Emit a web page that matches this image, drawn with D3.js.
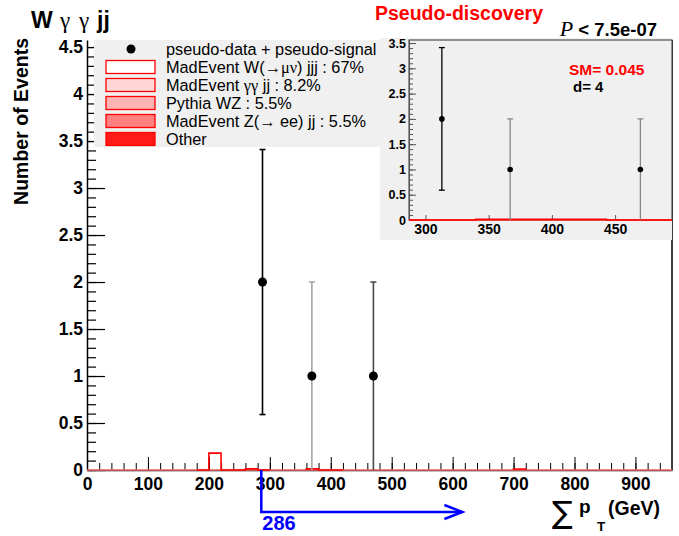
<!DOCTYPE html>
<html>
<head>
<meta charset="utf-8">
<script src="https://cdn.jsdelivr.net/npm/d3@7"></script>
<style>
  body { margin: 0; background: #fff; }
  svg { display: block; font-family: "Liberation Sans", Arial, sans-serif; }
  .serif { font-family: "Liberation Serif", "DejaVu Serif", serif; }
</style>
</head>
<body>
<div id="chart"></div>
<script>
// data points (sum pT in GeV, events)
var pointX = [288, 369, 470];
var pointY = [2, 1, 1];
var pointLo = [0.59, 0, 0];
var pointHi = [3.41, 2, 2];
var insetPointX = [313, 367, 470];

// stacked SM background, 20 GeV bins (low edge, height)
var histLow = [180, 200, 220, 240, 260, 280, 360, 380, 400, 700];
var histVal = [0, 0.18, 0, 0, 0.012, 0, 0.012, 0, 0, 0.01];
var binWidth = 20;
var insetHistEdges = [287, 340, 443, 495];
var insetHistVal = [0, 0.012, 0];

var xTickVals = [0, 100, 200, 300, 400, 500, 600, 700, 800, 900];
var yTickVals = [0, 0.5, 1, 1.5, 2, 2.5, 3, 3.5, 4, 4.5];
var insetXTicks = [300, 350, 400, 450];
var insetYTicks = [0, 0.5, 1, 1.5, 2, 2.5, 3, 3.5];

var cutValue = 286;
var arrowEnd = 616;

var legendLabels = [
  [["pseudo-data + pseudo-signal", 0]],
  [["MadEvent W(", 0], ["\u2192\u03bc\u03bd", 1], [") jjj : 67%", 0]],
  [["MadEvent ", 0], ["\u03b3\u03b3", 1], [" jj : 8.2%", 0]],
  [["Pythia WZ : 5.5%", 0]],
  [["MadEvent Z(", 0], ["\u2192", 1], [" ee) jj : 5.5%", 0]],
  [["Other", 0]]
];
var legendFills = [null, "#ffffff", "#ffd6d6", "#ffb3b3", "#ff8080", "#ff1a1a"];

var w = 679, h = 536;
var svg = d3.select("#chart").append("svg").attr("width", w).attr("height", h);

var x = d3.scaleLinear().domain([0, 960]).range([87, 672]);
var y = d3.scaleLinear().domain([0, 4.575]).range([470, 40]);

// frame side
svg.append("line").attr("x1", 672).attr("x2", 672).attr("y1", 40).attr("y2", 470)
  .attr("stroke", "#000").attr("stroke-width", 1.5);

// y axis
var yMinor = d3.range(0, 4.55, 0.1);
svg.append("g").attr("transform", "translate(87,0)")
  .call(d3.axisLeft(y).tickValues(yMinor).tickSize(-9).tickSizeOuter(0).tickFormat(""))
  .call(function(g){ g.select(".domain").remove(); g.selectAll("line").attr("stroke-width", 1.2); });
var yAx = svg.append("g").attr("transform", "translate(87,0)")
  .call(d3.axisLeft(y).tickValues(yTickVals).tickSize(-18).tickSizeOuter(0).tickPadding(4)
    .tickFormat(function(d){ return d3.format("")(d); }));
yAx.select(".domain").attr("stroke-width", 1.5);
yAx.selectAll("line").attr("stroke-width", 1.2);
yAx.selectAll("text").attr("font-size", 17.5).attr("font-weight", "bold")
  .attr("font-family", "'Liberation Sans', Arial, sans-serif").attr("fill", "#000");

// x axis
var xMinor = d3.range(0, 960, 20);
svg.append("g").attr("transform", "translate(0,470)")
  .call(d3.axisBottom(x).tickValues(xMinor).tickSize(-7).tickSizeOuter(0).tickFormat(""))
  .call(function(g){ g.select(".domain").remove(); });
var xAx = svg.append("g").attr("transform", "translate(0,470)")
  .call(d3.axisBottom(x).tickValues(xTickVals).tickSize(-13).tickSizeOuter(0).tickPadding(8));
xAx.select(".domain").attr("stroke-width", 1.5);
xAx.selectAll("text").attr("font-size", 17.5).attr("font-weight", "bold")
  .attr("font-family", "'Liberation Sans', Arial, sans-serif").attr("fill", "#000");

// background histogram
svg.append("line").attr("x1", x(0)).attr("x2", x(960)).attr("y1", y(0)).attr("y2", y(0))
  .attr("stroke", "#ff7070").attr("stroke-width", 1.5);
var runs = [];
histLow.forEach(function(lo, i){
  var last = runs[runs.length - 1];
  if (last && last[last.length - 1].lo + binWidth === lo) last.push({lo: lo, v: histVal[i]});
  else runs.push([{lo: lo, v: histVal[i]}]);
});
var step = d3.line().x(function(d){ return x(d[0]); }).y(function(d){ return y(d[1]); });
runs.forEach(function(r){
  var pts = [[r[0].lo, 0]];
  r.forEach(function(b){ pts.push([b.lo, b.v]); pts.push([b.lo + binWidth, b.v]); });
  pts.push([r[r.length - 1].lo + binWidth, 0]);
  svg.append("path").attr("d", step(pts)).attr("fill", "none")
    .attr("stroke", "#ff0000").attr("stroke-width", 1.6);
});

// data points
var barColors = ["#000000", "#a5a5a5", "#4a4a4a"];
var pts = d3.range(pointX.length);
svg.selectAll(".err").data(pts).enter().append("line")
  .attr("x1", function(i){ return x(pointX[i]); }).attr("x2", function(i){ return x(pointX[i]); })
  .attr("y1", function(i){ return y(pointLo[i]); }).attr("y2", function(i){ return y(pointHi[i]); })
  .attr("stroke", function(i){ return barColors[i]; }).attr("stroke-width", 1.6);
svg.selectAll(".capHi").data(pts).enter().append("line")
  .attr("x1", function(i){ return x(pointX[i]) - 3; }).attr("x2", function(i){ return x(pointX[i]) + 3; })
  .attr("y1", function(i){ return y(pointHi[i]); }).attr("y2", function(i){ return y(pointHi[i]); })
  .attr("stroke", function(i){ return barColors[i]; }).attr("stroke-width", 1.6);
svg.selectAll(".capLo").data(pts.filter(function(i){ return pointLo[i] > 0; })).enter().append("line")
  .attr("x1", function(i){ return x(pointX[i]) - 3; }).attr("x2", function(i){ return x(pointX[i]) + 3; })
  .attr("y1", function(i){ return y(pointLo[i]); }).attr("y2", function(i){ return y(pointLo[i]); })
  .attr("stroke", function(i){ return barColors[i]; }).attr("stroke-width", 1.6);
svg.selectAll(".pt").data(pts).enter().append("circle")
  .attr("cx", function(i){ return x(pointX[i]); }).attr("cy", function(i){ return y(pointY[i]); })
  .attr("r", 4.5).attr("fill", "#000");

// cut arrow
var arrowY = 512;
svg.append("path")
  .attr("d", "M" + x(cutValue) + "," + y(0) + "V" + arrowY + "H" + x(arrowEnd))
  .attr("fill", "none").attr("stroke", "#0000ff").attr("stroke-width", 2.5);
svg.append("path")
  .attr("d", "M" + (x(arrowEnd) - 18) + "," + (arrowY - 7) + "L" + x(arrowEnd) + "," + arrowY +
    "L" + (x(arrowEnd) - 18) + "," + (arrowY + 7))
  .attr("fill", "none").attr("stroke", "#0000ff").attr("stroke-width", 2.5);
svg.append("text").attr("x", x(cutValue) + 1).attr("y", 530).attr("fill", "#0000ff")
  .attr("font-size", 20).attr("font-weight", "bold").text(cutValue);

// legend
var leg = svg.append("g");
leg.append("rect").attr("x", 94).attr("y", 40).attr("width", 290).attr("height", 107).attr("fill", "#f0f0f0");
legendLabels.forEach(function(parts, i){
  var cy = 49 + i * 18;
  if (i === 0) {
    leg.append("circle").attr("cx", 131).attr("cy", cy).attr("r", 4.5).attr("fill", "#000");
  } else {
    leg.append("rect").attr("x", 106).attr("y", cy - 6.5).attr("width", 49).attr("height", 13)
      .attr("fill", legendFills[i]).attr("stroke", "#ff0000").attr("stroke-width", 1.3);
  }
  var t = leg.append("text").attr("x", 166).attr("y", cy + 5.5).attr("font-size", 16.3).attr("fill", "#000");
  parts.forEach(function(p){
    t.append("tspan").attr("class", p[1] ? "serif" : null).text(p[0]);
  });
});

// inset
var ix = d3.scaleLinear().domain([287, 495]).range([409, 672]);
var iy = d3.scaleLinear().domain([0, 3.56]).range([220, 40]);
var ins = svg.append("g");
ins.append("rect").attr("x", 380).attr("y", 38).attr("width", 292).attr("height", 202).attr("fill", "#f0f0f0");
ins.append("rect").attr("x", 409).attr("y", 40).attr("width", 263).attr("height", 180)
  .attr("fill", "none").attr("stroke", "#333").attr("stroke-width", 1);
ins.append("g").attr("transform", "translate(409,0)")
  .call(d3.axisLeft(iy).tickValues(d3.range(0, 3.55, 0.1)).tickSize(-4).tickSizeOuter(0).tickFormat(""))
  .call(function(g){ g.select(".domain").remove(); g.selectAll("line").attr("stroke", "#555"); });
var iyAx = ins.append("g").attr("transform", "translate(409,0)")
  .call(d3.axisLeft(iy).tickValues(insetYTicks).tickSize(-7).tickSizeOuter(0).tickPadding(3)
    .tickFormat(function(d){ return d3.format("")(d); }));
iyAx.select(".domain").attr("stroke", "#555");
iyAx.selectAll("line").attr("stroke", "#555");
iyAx.selectAll("text").attr("font-size", 12.5).attr("font-weight", "bold")
  .attr("font-family", "'Liberation Sans', Arial, sans-serif").attr("fill", "#000");
var ixAx = ins.append("g").attr("transform", "translate(0,220)")
  .call(d3.axisBottom(ix).tickValues(insetXTicks).tickSize(-5).tickSizeOuter(0).tickPadding(4));
ixAx.select(".domain").remove();
ixAx.selectAll("line").attr("stroke", "#555");
ixAx.selectAll("text").attr("font-size", 14).attr("font-weight", "bold")
  .attr("font-family", "'Liberation Sans', Arial, sans-serif").attr("fill", "#000");
ins.append("line").attr("x1", ix(287)).attr("x2", ix(495)).attr("y1", iy(0)).attr("y2", iy(0))
  .attr("stroke", "#ff5050").attr("stroke-width", 1.5);
var istep = [];
insetHistVal.forEach(function(v, i){ istep.push([insetHistEdges[i], v]); istep.push([insetHistEdges[i + 1], v]); });
ins.append("path").attr("d", d3.line().x(function(d){ return ix(d[0]); }).y(function(d){ return iy(d[1]); })(istep))
  .attr("fill", "none").attr("stroke", "#ff0000").attr("stroke-width", 1.6);
var insetBarColors = ["#000000", "#888888", "#888888"];
ins.selectAll(".ierr").data(pts).enter().append("line")
  .attr("x1", function(i){ return ix(insetPointX[i]); }).attr("x2", function(i){ return ix(insetPointX[i]); })
  .attr("y1", function(i){ return iy(pointLo[i]); }).attr("y2", function(i){ return iy(pointHi[i]); })
  .attr("stroke", function(i){ return insetBarColors[i]; }).attr("stroke-width", 1.3);
ins.selectAll(".icapHi").data(pts).enter().append("line")
  .attr("x1", function(i){ return ix(insetPointX[i]) - 3; }).attr("x2", function(i){ return ix(insetPointX[i]) + 3; })
  .attr("y1", function(i){ return iy(pointHi[i]); }).attr("y2", function(i){ return iy(pointHi[i]); })
  .attr("stroke", function(i){ return insetBarColors[i]; }).attr("stroke-width", 1.3);
ins.selectAll(".icapLo").data(pts.filter(function(i){ return pointLo[i] > 0; })).enter().append("line")
  .attr("x1", function(i){ return ix(insetPointX[i]) - 3; }).attr("x2", function(i){ return ix(insetPointX[i]) + 3; })
  .attr("y1", function(i){ return iy(pointLo[i]); }).attr("y2", function(i){ return iy(pointLo[i]); })
  .attr("stroke", function(i){ return insetBarColors[i]; }).attr("stroke-width", 1.3);
ins.selectAll(".ipt").data(pts).enter().append("circle")
  .attr("cx", function(i){ return ix(insetPointX[i]); }).attr("cy", function(i){ return iy(pointY[i]); })
  .attr("r", 2.8).attr("fill", "#000");
ins.append("text").attr("x", 569).attr("y", 75).attr("font-size", 15.5).attr("font-weight", "bold")
  .attr("fill", "#ff0000").text("SM= 0.045");
ins.append("text").attr("x", 573).attr("y", 92).attr("font-size", 15).attr("font-weight", "bold")
  .attr("fill", "#000").text("d= 4");

// titles
var title = svg.append("text").attr("y", 28).attr("font-size", 23);
title.append("tspan").attr("x", 31).attr("font-weight", "bold").text("W");
title.append("tspan").attr("x", 60).attr("class", "serif").text("\u03b3");
title.append("tspan").attr("x", 79).attr("class", "serif").text("\u03b3");
title.append("tspan").attr("x", 97).attr("font-weight", "bold").text("jj");

svg.append("text").attr("x", 375).attr("y", 20).attr("font-size", 19.5).attr("font-weight", "bold")
  .attr("fill", "#ff0000").text("Pseudo-discovery");
var pt = svg.append("text").attr("x", 657).attr("y", 36).attr("text-anchor", "end");
pt.append("tspan").attr("class", "serif").attr("font-style", "italic").attr("font-size", 22).text("P");
pt.append("tspan").attr("font-size", 18.5).attr("font-weight", "bold").text(" < 7.5e-07");

svg.append("text").attr("transform", "translate(28,38) rotate(-90)").attr("text-anchor", "end")
  .attr("font-size", 19.5).attr("font-weight", "bold").text("Number of Events");

var xt = svg.append("g");
xt.append("text").attr("x", 552).attr("y", 523).attr("font-size", 31)
  .attr("font-family", "'DejaVu Sans', sans-serif").text("\u2211");
xt.append("text").attr("x", 579).attr("y", 513).attr("font-size", 19).attr("font-weight", "bold").text("p");
xt.append("text").attr("x", 597).attr("y", 531).attr("font-size", 13.5).attr("font-weight", "bold").text("T");
xt.append("text").attr("x", 608).attr("y", 515).attr("font-size", 19.5).attr("font-weight", "bold").text("(GeV)");
</script>
</body>
</html>
